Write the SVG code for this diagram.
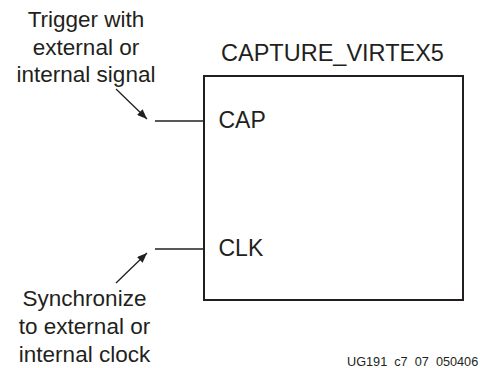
<svg xmlns="http://www.w3.org/2000/svg" width="480" height="368" viewBox="0 0 480 368">
<style>
text{font-family:"Liberation Sans",Arial,sans-serif;fill:#231f20}
.lbl{font-size:22.5px;text-anchor:middle}
.pin{font-size:23px}
.wire{stroke:#231f20;stroke-width:1.3;fill:none}
.arr{stroke:#231f20;stroke-width:1.3;fill:none;marker-end:url(#ah)}
</style>
<defs>
<marker id="ah" viewBox="0 0 10 8" refX="10" refY="4" markerWidth="10" markerHeight="8" markerUnits="userSpaceOnUse" orient="auto">
<path d="M0,0 L10,4 L0,8 Z" fill="#231f20"/>
</marker>
</defs>
<rect width="480" height="368" fill="#fff"/>
<g id="capture_virtex5">
<text x="332.5" y="60.5" style="font-size:23.5px;text-anchor:middle">CAPTURE_VIRTEX5</text>
<rect x="204" y="76" width="259" height="224" fill="none" stroke="#231f20" stroke-width="2"/>
<text class="pin" x="218.5" y="128.3">CAP</text>
<text class="pin" x="218.5" y="256.3">CLK</text>
</g>
<g id="trigger_label">
<text class="lbl" x="86" y="26.7">Trigger with</text>
<text class="lbl" x="86" y="54.5">external or</text>
<text class="lbl" x="86" y="81.7">internal signal</text>
</g>
<g id="sync_label">
<text class="lbl" x="84.5" y="306">Synchronize</text>
<text class="lbl" x="84.5" y="334">to external or</text>
<text class="lbl" x="84.5" y="361.5">internal clock</text>
</g>
<g id="connectors">
<line class="wire" x1="155" y1="121" x2="204" y2="121"/>
<line class="wire" x1="155" y1="249" x2="204" y2="249"/>
<line class="arr" x1="116" y1="89" x2="147" y2="119"/>
<line class="arr" x1="116" y1="283" x2="147" y2="253"/>
</g>
<text x="347" y="365.5" style="font-size:12.7px">UG191_c7_07_050406</text>
</svg>
